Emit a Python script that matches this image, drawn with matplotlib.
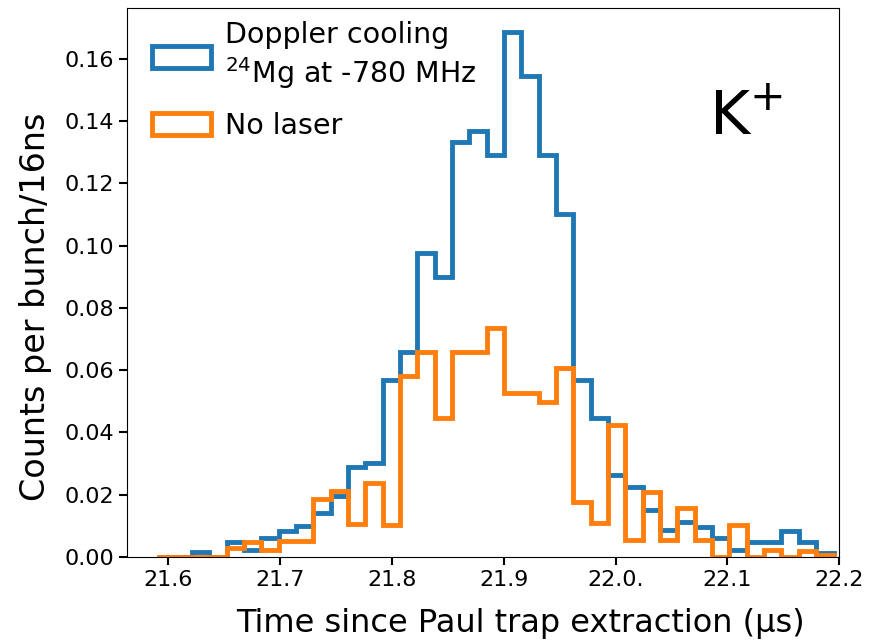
import numpy as np
import matplotlib
matplotlib.use("Agg")
import matplotlib.pyplot as plt

# bin edges of the time histogram (microseconds)
t_start, t_stop, n_bins = 21.59, 22.195, 39

# counts per bunch per bin
doppler_cooling = [0.0, 0.0, 0.0015, 0.0, 0.0047, 0.0022, 0.0062, 0.0084, 0.0100,
                   0.0140, 0.0197, 0.0290, 0.0302, 0.0569, 0.0660, 0.0976, 0.0900,
                   0.1334, 0.1367, 0.1290, 0.1685, 0.1545, 0.1290, 0.1102, 0.0569,
                   0.0446, 0.0263, 0.0226, 0.0151, 0.0087, 0.0113, 0.0097, 0.0060,
                   0.0022, 0.0049, 0.0049, 0.0085, 0.0047, 0.0012]
no_laser = [0.0, 0.0, 0.0, 0.0, 0.0028, 0.0049, 0.0022, 0.0052, 0.0052,
            0.0186, 0.0212, 0.0105, 0.0237, 0.0103, 0.0580, 0.0660, 0.0446,
            0.0660, 0.0660, 0.0735, 0.0526, 0.0526, 0.0499, 0.0606, 0.0178,
            0.0108, 0.0424, 0.0055, 0.0210, 0.0055, 0.0156, 0.0055, 0.0,
            0.0103, 0.0, 0.0022, 0.0, 0.0020, 0.0006]

labels = ['Doppler cooling\n$^{24}$Mg at -780 MHz', 'No laser']
colors = ['#1f77b4', '#ff7f0e']

xticks = [21.6, 21.7, 21.8, 21.9, 22.0, 22.1, 22.2]
xtick_labels = ['21.6', '21.7', '21.8', '21.9', '22.0.', '22.1', '22.2']
yticks = [0.00, 0.02, 0.04, 0.06, 0.08, 0.10, 0.12, 0.14, 0.16]


def main():
    edges = np.linspace(t_start, t_stop, n_bins + 1)
    centers = 0.5 * (edges[:-1] + edges[1:])

    fig = plt.figure(figsize=(8.84, 6.4), dpi=100)
    ax = fig.add_axes([0.1437, 0.1297, 0.8055, 0.858])

    for values, label, color in zip([doppler_cooling, no_laser], labels, colors):
        ax.hist(centers, bins=edges, weights=values, histtype='step',
                color=color, linewidth=3.5, label=label)

    ax.set_xlim(21.563, 22.197)
    ax.set_ylim(0, 0.1764)
    ax.set_xticks(xticks)
    ax.set_xticklabels(xtick_labels)
    ax.set_yticks(yticks)
    ax.set_yticklabels([f'{v:.2f}' for v in yticks])
    ax.tick_params(labelsize=16, length=6, width=1.5)

    ax.set_xlabel('Time since Paul trap extraction (µs)', fontsize=23)
    ax.xaxis.set_label_coords(0.553, -0.092)
    ax.set_ylabel('Counts per bunch/16ns', fontsize=24)
    ax.yaxis.set_label_coords(-0.106, 0.455)

    ax.legend(loc='upper left', bbox_to_anchor=(0.0126, 1.004), frameon=False,
              fontsize=20.5, labelspacing=0.75, handlelength=2.1,
              handleheight=0.8, handletextpad=0.48, borderaxespad=0.15,
              borderpad=0.4)
    ax.text(0.869, 0.8, 'K$^{+}$', transform=ax.transAxes, fontsize=44,
            ha='center', va='center')

    fig.savefig('out.png', dpi=100)
    plt.close(fig)


if __name__ == "__main__":
    main()
